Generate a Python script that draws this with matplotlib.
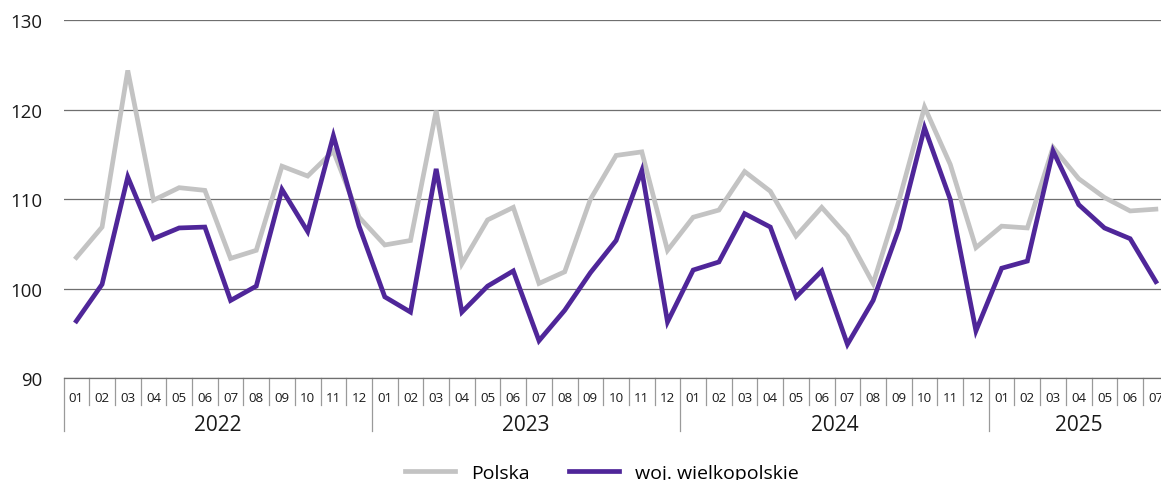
import numpy as np
import matplotlib
matplotlib.use('Agg')
import matplotlib.pyplot as plt
from matplotlib.transforms import blended_transform_factory

plt.rcParams['font.family'] = ['Open Sans', 'DejaVu Sans']

# data
years = ['2022', '2023', '2024', '2025']
months = ['01', '02', '03', '04', '05', '06', '07', '08', '09', '10', '11', '12'] * 3 + \
         ['01', '02', '03', '04', '05', '06', '07']
polska = [103.5, 106.9, 124.4, 109.9, 111.3, 111.0, 103.4, 104.3, 113.7, 112.6, 115.4, 108.0,
          104.9, 105.4, 119.9, 102.8, 107.7, 109.1, 100.6, 101.9, 110.0, 114.9, 115.3, 104.3,
          108.0, 108.8, 113.1, 110.9, 105.9, 109.1, 105.9, 100.6, 109.8, 120.3, 113.9, 104.6,
          107.0, 106.8, 115.8, 112.3, 110.2, 108.7, 108.9]
wlkp = [96.4, 100.5, 112.5, 105.6, 106.8, 106.9, 98.7, 100.3, 111.1, 106.4, 117.1, 107.0,
        99.1, 97.4, 113.4, 97.4, 100.3, 102.0, 94.2, 97.6, 101.8, 105.4, 113.2, 96.3,
        102.1, 103.0, 108.4, 106.9, 99.1, 102.0, 93.8, 98.7, 106.7, 118.0, 110.0, 95.3,
        102.3, 103.1, 115.4, 109.4, 106.8, 105.6, 100.8]

x = np.arange(len(months))

fig = plt.figure(figsize=(11.61, 4.81), dpi=100)
ax = fig.add_axes([0.0547, 0.2114, 0.9453, 0.7443])

ax.plot(x, polska, color='#c3c3c3', lw=3.4, label='Polska', solid_joinstyle='miter')
ax.plot(x, wlkp, color='#4f2699', lw=3.4, label='woj. wielkopolskie', solid_joinstyle='miter')

ax.set_ylim(90, 130)
ax.set_yticks([90, 100, 110, 120, 130])
ax.set_xlim(-0.5, 42.2)
ax.grid(axis='y', color='#6f6f6f', lw=0.9)
ax.set_axisbelow(True)
for s in ['top', 'right', 'left']:
    ax.spines[s].set_visible(False)
ax.spines['bottom'].set_color('#6f6f6f')
ax.spines['bottom'].set_linewidth(0.9)
ax.tick_params(axis='y', length=0, pad=15, labelsize=13.4, labelcolor='#1a1a1a')
ax.set_xticks([])

# two-level category axis
tr = blended_transform_factory(ax.transData, ax.transAxes)
for i, m in enumerate(months):
    ax.text(i, -0.054, m, transform=tr, ha='center', va='center', fontsize=9.6, color='#1a1a1a')
for i in range(len(months)):
    if i % 12 == 0:
        ax.plot([i - 0.5, i - 0.5], [0, -0.147], transform=tr, color='#9a9a9a', lw=0.9, clip_on=False)
    else:
        ax.plot([i - 0.5, i - 0.5], [0, -0.0746], transform=tr, color='#9a9a9a', lw=0.9, clip_on=False)
for k, y in enumerate(years):
    first = k * 12
    last = min(first + 11, len(months) - 1)
    ax.text((first + last) / 2, -0.1296, y, transform=tr, ha='center', va='center',
            fontsize=15, color='#1a1a1a')

fig.legend(loc='center', bbox_to_anchor=(602 / 1161, 1 - 474 / 481), ncol=2, frameon=False,
           fontsize=14, handlelength=2.57, handletextpad=0.82, columnspacing=2.0)

fig.savefig('out.png', dpi=100)
